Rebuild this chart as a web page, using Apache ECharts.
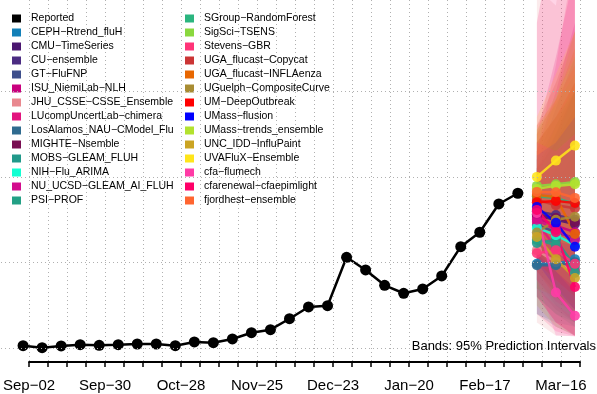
<!DOCTYPE html>
<html>
<head>
<meta charset="utf-8">
<script src="https://cdn.jsdelivr.net/npm/echarts@6/dist/echarts.min.js"></script>
<style>html,body{margin:0;padding:0;background:#fff}#c{width:597px;height:394px}</style>
</head>
<body>
<div id="c"></div>
<script>
// ---- data ----
const tickLabels = ["Sep−02","Sep−30","Oct−28","Nov−25","Dec−23","Jan−20","Feb−17","Mar−16"];
const reportedWeeks = [0,1,2,3,4,5,6,7,8,9,10,11,12,13,14,15,16,17,18,19,20,21,22,23,24,25,26];
const reported = [30,7,27,42,35,42,50,50,30,74,65,109,182,217,345,482,497,1062,914,735,642,692,844,1186,1354,1684,1809];
const forecastWeeks = [27,28,29];
const hGrid = [0,1000,2000,3000];
const modelNames = [
  "CEPH−Rtrend_fluH","CMU−TimeSeries","CU−ensemble","GT−FluFNP","ISU_NiemiLab−NLH",
  "JHU_CSSE−CSSE_Ensemble","LUcompUncertLab−chimera","LosAlamos_NAU−CModel_Flu","MIGHTE−Nsemble",
  "MOBS−GLEAM_FLUH","NIH−Flu_ARIMA","NU_UCSD−GLEAM_AI_FLUH","PSI−PROF",
  "SGroup−RandomForest","SigSci−TSENS","Stevens−GBR","UGA_flucast−Copycat","UGA_flucast−INFLAenza",
  "UGuelph−CompositeCurve","UM−DeepOutbreak","UMass−flusion","UMass−trends_ensemble",
  "UNC_IDD−InfluPaint","UVAFluX−Ensemble","cfa−flumech","cfarenewal−cfaepimlight","fjordhest−ensemble"
];
const forecastMedian = [
  [985,985,1040],[1545,1500,1450],[1600,1555,1500],[1440,1355,1285],[1520,1430,1355],
  [1145,1005,890],[1475,1170,915],[970,970,1005],[1565,1520,1475],
  [1230,1265,960],[1405,1320,1205],[1500,1380,1265],[1265,1205,880],
  [1775,1755,1685],[1895,1915,1940],[1110,1145,985],[1730,1670,1635],[1790,1765,1335],
  [1350,1500,1535],[1705,1720,1695],[1650,1465,1185],[1860,1895,1915],
  [1300,1040,820],[2000,2190,2365],[1580,650,380],[1615,1355,715],[1825,1820,1755]
];
const bandLower = [
  [400,300,250],[900,650,450],[1000,700,500],[700,450,300],[800,500,300],
  [300,150,140],[600,300,150],[400,250,150],[900,650,450],
  [600,400,250],[700,500,350],[800,550,400],[600,400,300],
  [1100,900,700],[1200,1000,800],[400,200,140],[900,600,400],[1000,750,450],
  [700,600,500],[1000,800,600],[1000,700,450],[1150,900,700],
  [500,250,150],[1300,1250,1200],[800,150,140],[600,300,140],[1100,900,650]
];
const bandUpper = [
  [1600,1900,2300],[2100,2400,2700],[2200,2600,3000],[2200,2800,3400],[2300,3000,3800],
  [4200,4000,5500],[2500,3400,4400],[1700,2100,2600],[2100,2400,2800],
  [1900,2400,3000],[2050,2350,2700],[2100,2500,3000],[2000,2500,3000],
  [2400,2700,3000],[2550,2850,3200],[2300,3300,4600],[2600,3100,3700],[2500,2900,3500],
  [2100,2600,3100],[2400,2700,3100],[2250,2400,2700],[2550,2950,3400],
  [2300,2900,3700],[2700,3200,3700],[2400,2300,2500],[3800,5000,7000],[2600,2900,3300]
];
// ---- styles ----
const palette = [
  '#1380B8','#4B1670','#4B2C82','#3E4F8C','#C9007E',
  '#E9888F','#E2147E','#2F6B8F','#790E52',
  '#21998A','#12FFD2','#D30C8D','#23A085',
  '#2BB57F','#8AD83E','#FF3478','#CB3535','#E86700',
  '#A88C33','#FF0000','#0000FF','#B3E22E',
  '#CBA423','#FFE51A','#FF3BA6','#FF0068','#FF6530'
];
const FONT = 'Liberation Sans';
const gridLine = {color:'#b0b0b0', type:[1,3], width:1};

const chart = echarts.init(document.getElementById('c'), null, {renderer:'canvas'});

const series = [];
series.push({
  type:'custom', name:'_bands', xAxisIndex:0, yAxisIndex:0, z:1, clip:true, silent:true,
  data: modelNames.map((n,i)=>[forecastWeeks[0], forecastMedian[i][0]]),
  renderItem: function(params, api){
    const i = params.dataIndex;
    const pts = [];
    for (let k=0;k<forecastWeeks.length;k++) pts.push(api.coord([forecastWeeks[k], bandLower[i][k]]));
    for (let k=forecastWeeks.length-1;k>=0;k--) pts.push(api.coord([forecastWeeks[k], bandUpper[i][k]]));
    return {type:'polygon', shape:{points:pts}, style:{fill:palette[i], opacity:0.17}};
  }
});
series.push({
  type:'line', name:'_grid', xAxisIndex:0, yAxisIndex:0, z:2, silent:true,
  data:[[reportedWeeks[0], reported[0]]], symbol:'none', lineStyle:{opacity:0},
  markLine:{silent:true, symbol:['none','none'], label:{show:false}, animation:false,
    lineStyle:gridLine, emphasis:{disabled:true}, data: hGrid.map(v=>({yAxis:v}))}
});
modelNames.forEach((n,i)=>{
  series.push({
    type:'line', name:n, xAxisIndex:0, yAxisIndex:0, z:3,
    data: forecastWeeks.map((w,k)=>[w, forecastMedian[i][k]]),
    symbol:'circle', symbolSize:10, color:palette[i],
    itemStyle:{color:palette[i], opacity:0.88},
    lineStyle:{color:palette[i], width:2.5, opacity:0.88}
  });
});
series.push({
  type:'line', name:'Reported', xAxisIndex:0, yAxisIndex:0, z:4,
  data: reportedWeeks.map((w,k)=>[w, reported[k]]),
  symbol:'circle', symbolSize:11, color:'#000',
  itemStyle:{color:'#000'}, lineStyle:{color:'#000', width:2.5}
});

const legendBase = {
  orient:'vertical', icon:'rect', itemWidth:9, itemHeight:8, itemGap:3, padding:0,
  selectedMode:false, top:13, itemStyle:{opacity:1},
  textStyle:{fontFamily:FONT, fontSize:10.5, color:'#000', lineHeight:11, padding:[0,0,0,5]}
};

chart.setOption({
  animation:false,
  backgroundColor:'#fff',
  textStyle:{fontFamily:FONT},
  title:{text:'Bands: 95% Prediction Intervals', right:1, top:340, padding:0,
    textStyle:{fontFamily:FONT, fontSize:13, fontWeight:'normal', color:'#000'}},
  legend:[
    Object.assign({}, legendBase, {left:12, data:['Reported'].concat(modelNames.slice(0,13))}),
    Object.assign({}, legendBase, {left:185, data:modelNames.slice(13)})
  ],
  grid:[
    {left:1, right:-5, top:0, bottom:32, containLabel:false},
    {left:23, right:17, top:0, bottom:32, containLabel:false}
  ],
  xAxis:[
    {type:'value', gridIndex:0, min:-1.16, max:30.16, show:false},
    {type:'value', gridIndex:1, min:0, max:29, interval:1,
     axisLine:{show:true, lineStyle:{color:'#000', width:2}},
     axisTick:{show:true, length:5, lineStyle:{color:'#000', width:1.5}},
     axisLabel:{show:true, margin:16, color:'#000', fontFamily:FONT, fontSize:15,
       formatter:function(v){ return (v % 4 === 0) ? tickLabels[v/4] : ''; }},
     splitLine:{show:true, lineStyle:gridLine}}
  ],
  yAxis:[
    {type:'value', gridIndex:0, min:-160, max:4064, show:false},
    {type:'value', gridIndex:1, min:0, max:1, show:false}
  ],
  series: series
});
</script>
</body>
</html>
